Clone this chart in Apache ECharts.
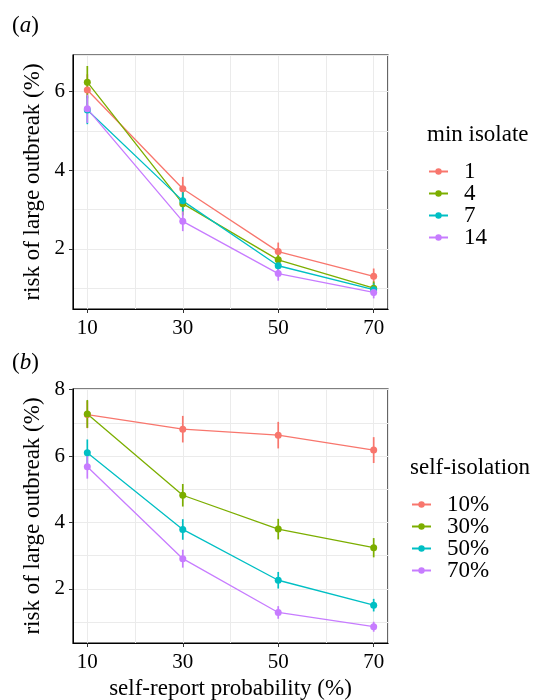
<!DOCTYPE html>
<html><head><meta charset="utf-8">
<script src="https://cdn.jsdelivr.net/npm/echarts@6/dist/echarts.min.js"></script>
<style>html,body{margin:0;padding:0;background:#fff}#c{width:536px;height:700px}</style>
</head><body><div id="c"></div>
<script>
// ---- data ----
const xValues = [10, 30, 50, 70];
const xTicks = [10, 30, 50, 70];
const yTicksA = [2, 4, 6];
const yTicksB = [2, 4, 6, 8];

// panel (a): min isolate
const namesA = ['1', '4', '7', '14'];
const meanA1 = [6.04, 3.53, 1.93, 1.30];
const meanA4 = [6.24, 3.15, 1.72, 1.00];
const meanA7 = [5.53, 3.22, 1.57, 0.96];
const meanA14 = [5.56, 2.70, 1.37, 0.89];
const errA1 = [0.40, 0.30, 0.23, 0.20];
const errA4 = [0.41, 0.30, 0.20, 0.17];
const errA7 = [0.36, 0.27, 0.18, 0.16];
const errA14 = [0.36, 0.25, 0.18, 0.15];

// panel (b): self-isolation
const namesB = ['10%', '30%', '50%', '70%'];
const meanB10 = [7.25, 6.81, 6.63, 6.18];
const meanB30 = [7.27, 4.82, 3.80, 3.24];
const meanB50 = [6.10, 3.79, 2.26, 1.51];
const meanB70 = [5.68, 2.91, 1.29, 0.86];
const errB10 = [0.41, 0.40, 0.40, 0.39];
const errB30 = [0.42, 0.34, 0.31, 0.29];
const errB50 = [0.40, 0.31, 0.25, 0.19];
const errB70 = [0.36, 0.27, 0.19, 0.15];

const colors = ['#F8766D', '#7CAE00', '#00BFC4', '#C77CFF'];
const FONT = 'Liberation Serif';

const chart = echarts.init(document.getElementById('c'), null, {renderer: 'canvas'});

function labeledX(g) {
  return {type:'value', gridIndex:g, min:7, max:73,
    axisLine:{show:true, lineStyle:{color:'#000', width:1}},
    axisTick:{show:true, length:4, customValues:xTicks, lineStyle:{color:'#333', width:1}},
    axisLabel:{customValues:xTicks, margin:9, fontSize:21, color:'#000', fontFamily:FONT},
    splitLine:{show:false}};
}
function gridX(g) {
  return {type:'value', gridIndex:g, min:7, max:73, minInterval:10, maxInterval:10, position:'top',
    axisLine:{show:false}, axisTick:{show:false}, axisLabel:{show:false},
    splitLine:{show:true, lineStyle:{color:'#EBEBEB', width:1}}};
}
function labeledY(g, min, max, ticks) {
  return {type:'value', gridIndex:g, min:min, max:max,
    axisLine:{show:true, lineStyle:{color:'#000', width:1}},
    axisTick:{show:true, length:4, customValues:ticks, lineStyle:{color:'#333', width:1}},
    axisLabel:{customValues:ticks, margin:8, fontSize:21, color:'#000', fontFamily:FONT},
    splitLine:{show:false}};
}
function gridY(g, min, max) {
  return {type:'value', gridIndex:g, min:min, max:max, minInterval:1, maxInterval:1, position:'right',
    axisLine:{show:false}, axisTick:{show:false}, axisLabel:{show:false},
    splitLine:{show:true, lineStyle:{color:'#EBEBEB', width:1}}};
}

function lineSeries(name, xi, yi, color, means) {
  return {type:'line', name:name, xAxisIndex:xi, yAxisIndex:yi,
    data: xValues.map((x, i) => [x, means[i]]),
    symbol:'circle', symbolSize:7, showSymbol:true,
    lineStyle:{color:color, width:1.3}, itemStyle:{color:color},
    emphasis:{disabled:true}, z:3, silent:true};
}
function errSeries(name, xi, yi, color, means, errs) {
  return {type:'custom', name:name + ' range', xAxisIndex:xi, yAxisIndex:yi, z:2, silent:true,
    data: xValues.map((x, i) => [x, means[i] - errs[i], means[i] + errs[i]]),
    encode:{x:0, y:[1, 2]},
    renderItem: function(params, api) {
      const p1 = api.coord([api.value(0), api.value(1)]);
      const p2 = api.coord([api.value(0), api.value(2)]);
      return {type:'line', shape:{x1:p1[0], y1:p1[1], x2:p2[0], y2:p2[1]},
        style:{stroke:color, lineWidth:1.7}};
    }};
}

const meansA = [meanA1, meanA4, meanA7, meanA14];
const errsA = [errA1, errA4, errA7, errA14];
const meansB = [meanB10, meanB30, meanB50, meanB70];
const errsB = [errB10, errB30, errB50, errB70];

const series = [];
namesA.forEach((n, i) => series.push(errSeries(n, 0, 0, colors[i], meansA[i], errsA[i])));
namesA.forEach((n, i) => series.push(lineSeries(n, 0, 0, colors[i], meansA[i])));
namesB.forEach((n, i) => series.push(errSeries(n, 2, 2, colors[i], meansB[i], errsB[i])));
namesB.forEach((n, i) => series.push(lineSeries(n, 2, 2, colors[i], meansB[i])));

const legendCommon = {orient:'vertical', itemWidth:19, itemHeight:8, itemGap:-1, padding:0, selectedMode:false,
  textStyle:{fontSize:23, lineHeight:21, height:21, fontFamily:FONT, color:'#000', padding:[0,0,0,11]}};

function txt(text, x, y, opts) {
  return Object.assign({type:'text', x:x, y:y, silent:true,
    style:Object.assign({text:text, fontSize:23, fontFamily:FONT, fill:'#000',
      textAlign:'left', textVerticalAlign:'middle'}, (opts && opts.style) || {})},
    (opts && opts.el) || {});
}

chart.setOption({
  animation:false,
  backgroundColor:'#fff',
  grid:[
    {left:73, top:55, width:315, height:254, show:true, borderColor:'#000', borderWidth:1.2, backgroundColor:'#fff'},
    {left:73, top:389, width:315, height:254, show:true, borderColor:'#000', borderWidth:1.2, backgroundColor:'#fff'}
  ],
  xAxis:[labeledX(0), gridX(0), labeledX(1), gridX(1)],
  yAxis:[labeledY(0, 0.47, 6.93, yTicksA), gridY(0, 0.47, 6.93), labeledY(1, 0.37, 8.02, yTicksB), gridY(1, 0.37, 8.02)],
  legend:[
    Object.assign({data:namesA, left:428, top:160}, legendCommon),
    Object.assign({data:namesB, left:411, top:493}, legendCommon)
  ],
  graphic:[
    txt('({i|a})', 12, 26, {style:{rich:{i:{fontStyle:'italic', fontSize:23, fontFamily:FONT}}}}),
    txt('({i|b})', 12, 363, {style:{rich:{i:{fontStyle:'italic', fontSize:23, fontFamily:FONT}}}}),
    txt('min isolate', 427, 135),
    txt('self-isolation', 410, 468),
    txt('risk of large outbreak (%)', 33, 182, {style:{textAlign:'center'}, el:{rotation:Math.PI/2}}),
    txt('risk of large outbreak (%)', 33, 516, {style:{textAlign:'center'}, el:{rotation:Math.PI/2}}),
    txt('self-report probability (%)', 230.5, 689, {style:{textAlign:'center'}})
  ],
  series:series
});
</script></body></html>
